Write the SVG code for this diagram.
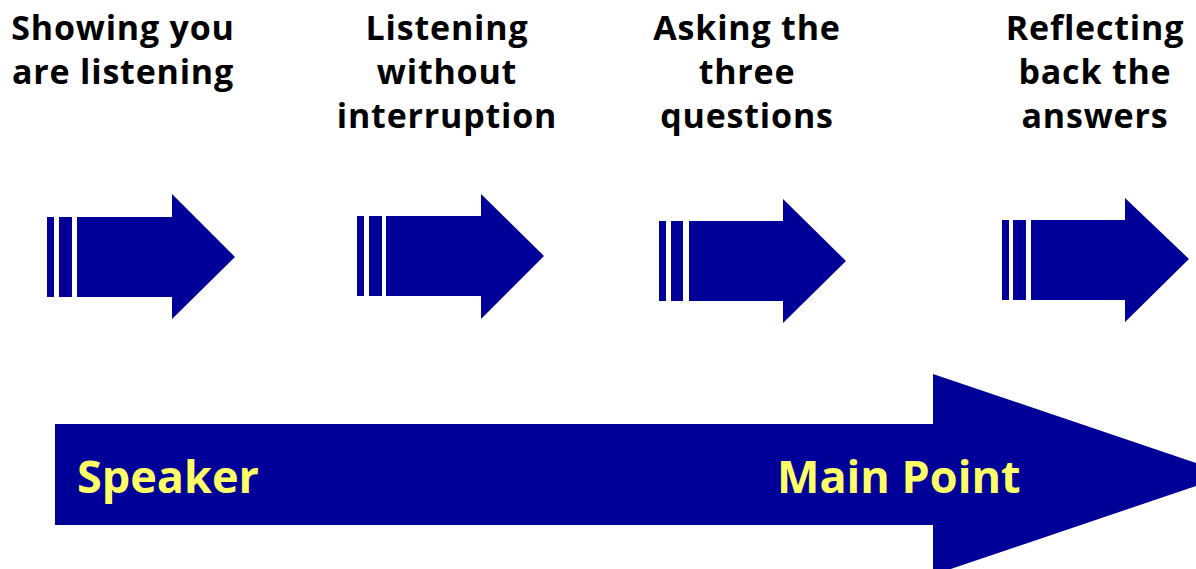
<svg xmlns="http://www.w3.org/2000/svg" width="1196" height="569" viewBox="0 0 1196 569">
  <style>
    .shape { fill: #000099; }
    .title { font-family: "Open Sans", "Liberation Sans", sans-serif; font-weight: 700; font-size: 34px; letter-spacing: 0.8px; fill: #000000; text-anchor: middle; }
    .label { font-family: "Open Sans", "Liberation Sans", sans-serif; font-weight: 700; font-size: 45px; fill: #FFFF66; }
  </style>
  <rect width="1196" height="569" fill="#ffffff"/>

  <!-- step arrows with striped tails -->
  <g id="step-showing">
    <text class="title" x="123" y="40">Showing you</text>
    <text class="title" x="123" y="84">are listening</text>
    <rect class="shape" x="47" y="217" width="7" height="80"/>
    <rect class="shape" x="59" y="217" width="13" height="80"/>
    <polygon class="shape" points="77,217 172,217 172,194 235,257 172,319 172,297 77,297"/>
  </g>

  <g id="step-listening">
    <text class="title" x="447" y="40">Listening</text>
    <text class="title" x="447" y="84">without</text>
    <text class="title" x="447" y="128">interruption</text>
    <rect class="shape" x="357" y="216" width="7" height="80"/>
    <rect class="shape" x="369" y="216" width="13" height="80"/>
    <polygon class="shape" points="386,216 481,216 481,194 544,256 481,319 481,296 386,296"/>
  </g>

  <g id="step-asking">
    <text class="title" x="747" y="40">Asking the</text>
    <text class="title" x="747" y="84">three</text>
    <text class="title" x="747" y="128">questions</text>
    <rect class="shape" x="659" y="221" width="7" height="80"/>
    <rect class="shape" x="671" y="221" width="12" height="80"/>
    <polygon class="shape" points="689,221 783,221 783,199 846,261 783,323 783,301 689,301"/>
  </g>

  <g id="step-reflecting">
    <text class="title" x="1095" y="40">Reflecting</text>
    <text class="title" x="1095" y="84">back the</text>
    <text class="title" x="1095" y="128">answers</text>
    <rect class="shape" x="1002" y="220" width="7" height="80"/>
    <rect class="shape" x="1013" y="220" width="13" height="80"/>
    <polygon class="shape" points="1031,220 1125,220 1125,198 1189,259 1125,322 1125,300 1031,300"/>
  </g>

  <!-- long arrow from speaker to main point -->
  <g id="flow">
    <polygon class="shape" points="55,424 933,424 933,374 1230,474.5 933,575 933,525 55,525"/>
    <text class="label" x="77" y="493">Speaker</text>
    <text class="label" x="777" y="493">Main Point</text>
  </g>
</svg>
